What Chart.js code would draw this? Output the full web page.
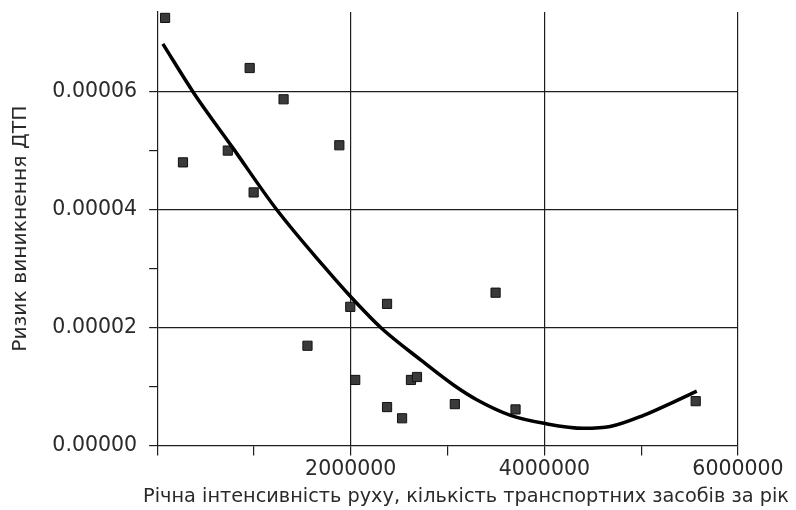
<!DOCTYPE html>
<html>
<head>
<meta charset="utf-8">
<script src="https://cdn.jsdelivr.net/npm/chart.js@4"></script>
<style>
  html, body { margin: 0; padding: 0; background: #fff; }
  #wrap { width: 796px; height: 510px; }
</style>
</head>
<body>
<div id="wrap"><canvas id="chart" width="796" height="510"></canvas></div>
<script>
// Observed points: annual traffic volume vs. accident risk
const obsX = [82000, 267000, 730000, 956000, 997000, 1306000, 1553000, 1882000, 1995000, 2046000,
              2375000, 2375000, 2530000, 2622000, 2684000, 3075000, 3496000, 3702000, 5563000];
const obsY = [7.25e-5, 4.8e-5, 5.0e-5, 6.4e-5, 4.29e-5, 5.87e-5, 1.69e-5, 5.09e-5, 2.35e-5, 1.11e-5,
              2.4e-5, 6.5e-6, 4.6e-6, 1.11e-5, 1.16e-5, 7.0e-6, 2.59e-5, 6.1e-6, 7.5e-6];

// Trend curve
const fitX = [59000, 385000, 780000, 1234000, 1725000, 2000000, 2309000, 2722000, 3065000,
              3306000, 3650000, 4010000, 4405000, 4680000, 5024000, 5299000, 5574000];
const fitY = [6.81e-5, 5.96e-5, 5.05e-5, 4.00e-5, 3.03e-5, 2.52e-5, 2.00e-5, 1.45e-5, 1.02e-5,
              7.7e-6, 5.1e-6, 3.7e-6, 2.9e-6, 3.2e-6, 5.1e-6, 7.1e-6, 9.2e-6];

const xTickStep = 1000000;
const yTickStep = 0.00001;
const X_MAX = 6000000;
const Y_MAX = 0.0000735;

const X_TITLE = 'Річна інтенсивність руху, кількість транспортних засобів за рік';
const Y_TITLE = 'Ризик виникнення ДТП';

const FONT = '"DejaVu Sans", Verdana, sans-serif';
const TEXT = '#2a2a2a';
const LINE = '#1e1e1e';

const toXY = (xs, ys) => xs.map((x, i) => ({ x, y: ys[i] }));

const isMajorX = v => v > 0 && Math.round(v / xTickStep) % 2 === 0;
const isMajorY = v => Math.round(v / yTickStep) % 2 === 0;
const onStep = step => s => {
  s.ticks = s.ticks.filter(t => Math.abs(t.value / step - Math.round(t.value / step)) < 1e-6);
};

// x title is wider than the plot in the original, so draw it ourselves
// (the built-in axis title gets squeezed to the chart area width)
const xTitlePlugin = {
  id: 'xTitle',
  afterDraw(chart) {
    const { ctx } = chart;
    ctx.save();
    ctx.font = '19.3px ' + FONT;
    ctx.fillStyle = TEXT;
    ctx.textAlign = 'center';
    ctx.textBaseline = 'middle';
    ctx.fillText(X_TITLE, 466, 497);
    ctx.restore();
  }
};

new Chart(document.getElementById('chart'), {
  type: 'scatter',
  data: {
    datasets: [
      {
        label: 'Тренд',
        data: toXY(fitX, fitY),
        showLine: true,
        borderColor: '#000',
        borderWidth: 3.5,
        pointRadius: 0,
        cubicInterpolationMode: 'monotone',
        fill: false,
      },
      {
        label: 'Ризик',
        data: toXY(obsX, obsY),
        pointStyle: 'rect',
        pointRadius: 6.5,
        backgroundColor: '#3a3a3a',
        borderColor: '#111',
        borderWidth: 1,
      }
    ]
  },
  plugins: [xTitlePlugin],
  options: {
    responsive: false,
    animation: false,
    layout: { padding: { left: 9, right: 58, top: 12, bottom: 26 } },
    plugins: { legend: { display: false }, tooltip: { enabled: false } },
    scales: {
      x: {
        type: 'linear',
        min: 0,
        max: X_MAX,
        afterBuildTicks: onStep(xTickStep),
        ticks: {
          stepSize: xTickStep,
          autoSkip: false,
          maxRotation: 0,
          padding: 2,
          color: TEXT,
          font: { family: FONT, size: 20.5 },
          callback: v => isMajorX(v) ? String(v) : ''
        },
        grid: {
          color: c => (c.tick && isMajorX(c.tick.value)) ? LINE : 'rgba(0,0,0,0)',
          tickColor: LINE,
          tickLength: 10,
          lineWidth: 1.2,
        },
        border: { color: LINE, width: 1.2 },
        title: { display: false }
      },
      y: {
        type: 'linear',
        min: 0,
        max: Y_MAX,
        afterBuildTicks: onStep(yTickStep),
        // no top padding for the (empty) topmost minor tick label
        afterFit: s => { s.paddingTop = 0; },
        ticks: {
          stepSize: yTickStep,
          autoSkip: false,
          padding: 12,
          color: TEXT,
          font: { family: FONT, size: 20.5 },
          callback: v => isMajorY(v) ? Number(v).toFixed(5) : ''
        },
        grid: {
          color: c => (c.tick && c.tick.value > 0 && isMajorY(c.tick.value)) ? LINE : 'rgba(0,0,0,0)',
          tickColor: LINE,
          tickLength: 8,
          lineWidth: 1.2,
        },
        border: { color: LINE, width: 1.2 },
        title: {
          display: true,
          text: Y_TITLE,
          color: TEXT,
          font: { family: FONT, size: 20.3 },
          padding: { top: 0, bottom: 7 }
        }
      }
    }
  }
});
</script>
</body>
</html>
